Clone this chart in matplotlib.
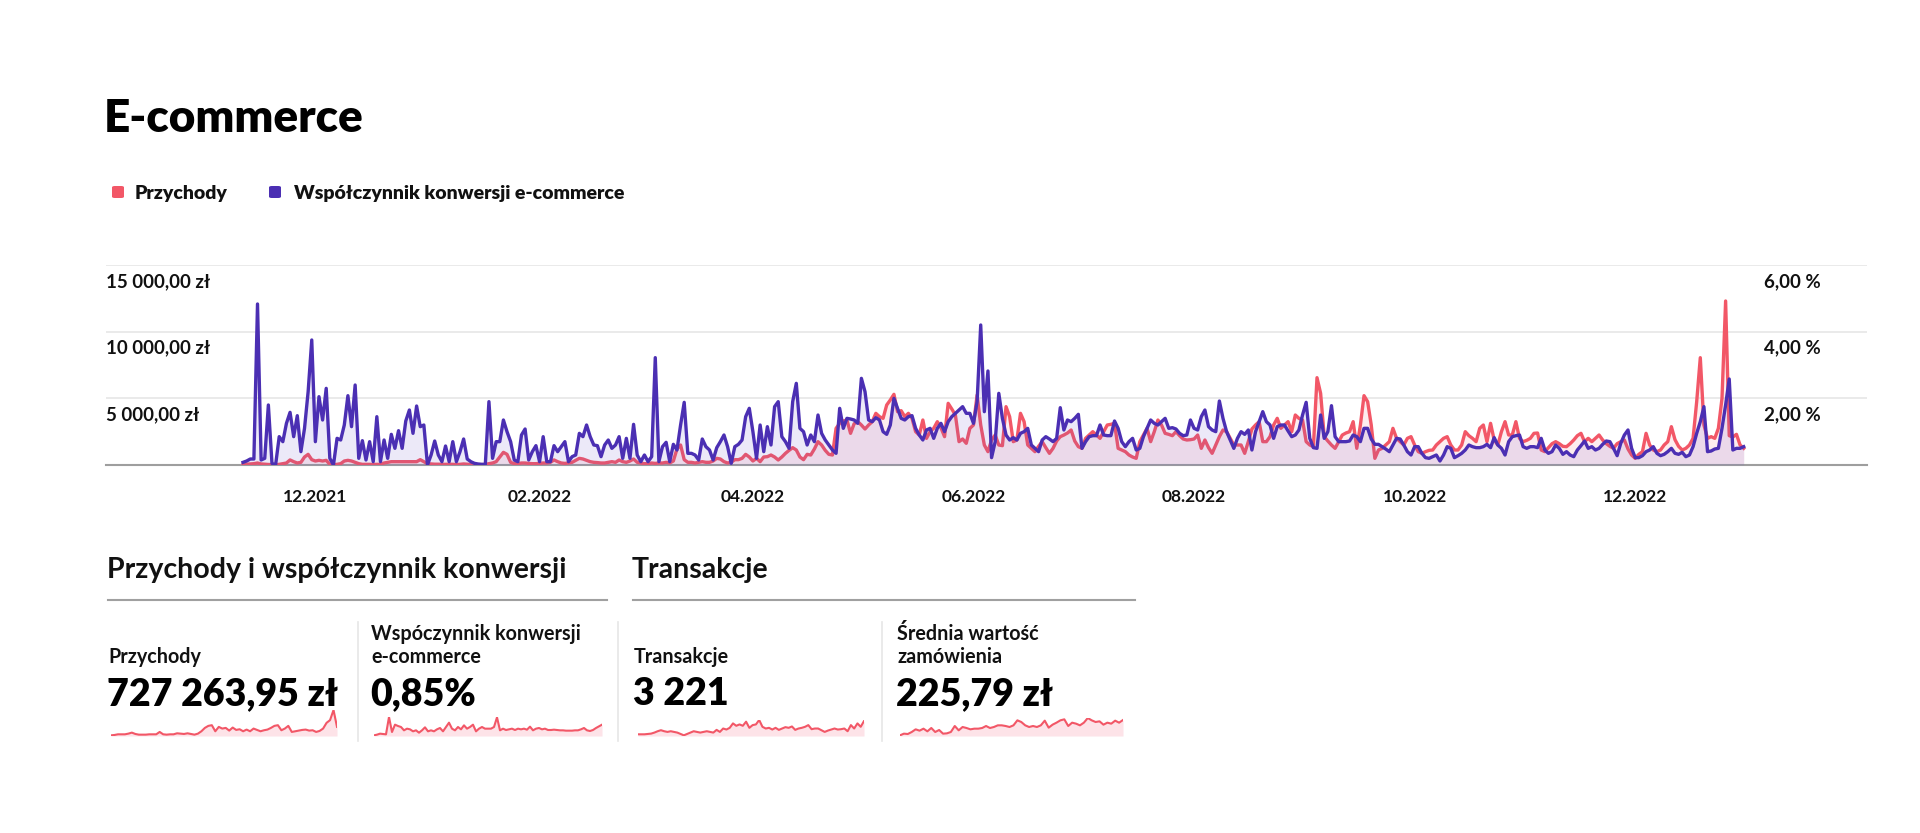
import matplotlib
matplotlib.use("Agg")
import matplotlib.pyplot as plt
import matplotlib.dates as mdates
from matplotlib.patches import FancyBboxPatch
from matplotlib.lines import Line2D
import numpy as np
import pandas as pd

plt.rcParams['font.family'] = ['Lato', 'DejaVu Sans']

# ---------------- data ----------------
start_date = "2021-11-11"

revenue = [  # Przychody, zł per day
    50, 60, 80, 100, 150, 80, 60, 40, 30, 20, 50, 100, 150, 380, 250, 150, 200, 600, 800, 400,
    300, 350, 300, 350, 50, 30, 50, 100, 300, 350, 300, 200, 100, 50, 50, 50, 40, 50, 50, 150,
    200, 250, 250, 250, 250, 250, 250, 250, 250, 400, 250, 100, 80, 60, 60, 50, 50, 60, 50, 40,
    50, 80, 60, 40, 30, 30, 30, 40,
    100, 150, 250, 600, 950, 800, 200, 100, 100, 150, 150, 120, 100, 100, 120, 150, 150, 200,
    380, 250, 150, 120, 150, 200, 350, 500, 450, 350, 250, 200, 180, 150, 150, 200, 250, 200,
    375, 250, 200, 300, 450, 200, 150, 100, 100, 150, 120, 150, 150, 200, 150, 300, 1200, 1500,
    400, 200, 200, 150, 200, 250, 200, 200, 300, 500, 450, 250, 150, 200, 400, 400,
    500, 800, 600, 300, 500, 250, 600, 625, 750, 600, 375, 600, 875, 1100, 1300, 1125, 600, 400,
    800, 750, 1200, 1750, 1500, 1100, 800, 750, 2750, 3125, 3300, 3375, 2375, 3100, 3250, 3000,
    2700, 3000, 3250, 3875, 3625, 3500, 4500, 4875, 5300, 4000, 4075, 3625, 3875, 3500, 2500,
    2250, 3375, 2000, 2500, 2750, 3250, 2800, 2125, 4625, 4200, 3750, 1750, 1950, 1625, 2750,
    3000, 5250, 3000, 1500, 1000, 1875,
    2250, 1500, 1450, 4375, 3625, 1750, 1875, 3875, 3250, 1500, 1250, 1000, 1400, 1750, 1300,
    875, 1250, 1800, 2125, 2250, 2400, 2625, 1800, 1375, 1250, 2000, 2250, 2500, 2250, 2000,
    2500, 3000, 3050, 3125, 1250, 1125, 1000, 750, 600, 500, 1750, 2250, 2750, 1750, 2500, 3375,
    3000, 2375, 2300, 2200, 2500, 2200, 1950, 1875, 1900, 1950, 2250, 1250, 1875, 1300, 875,
    1500, 2125, 2625, 2500, 2000, 1500, 1500, 1500, 875, 1750,
    2700, 3000, 3250, 1750, 1750, 2125, 3000, 3500, 2750, 3000, 3250, 2500, 3750, 3500, 3375,
    1750, 1500, 1375, 6550, 5375, 2125, 1800, 1500, 1250, 1750, 2250, 2400, 2500, 3250, 1250,
    3000, 5200, 4750, 3000, 500, 1125, 1250, 1500, 1750, 2750, 2000, 1750, 1500, 2000, 2125,
    1500, 1000, 875, 1000, 1100, 1125, 1500, 1750, 2000, 2125, 1500, 1125, 1125, 1500, 2500,
    2200, 2000, 1750, 2750, 3000, 1750, 3125, 1875, 1500, 2500,
    3250, 2250, 2250, 3250, 2000, 1750, 1850, 2000, 2375, 2400, 1125, 1000, 1300, 1600, 1750,
    1600, 1400, 1375, 1600, 1875, 2200, 2375, 1750, 2000, 1750, 2000, 2250, 1875, 1600, 1400,
    1250, 1600, 1750, 1875, 1200, 750, 500, 800, 1000, 2375, 1500, 1125, 1000, 1125, 1500, 1750,
    2875, 1900, 1400, 1125, 1250, 1500, 2000, 4750, 8050, 3000, 2000, 2125, 2000, 2750, 5000,
    12300, 2200, 2100, 2300, 1500, 1250,
]

conversion = [  # Współczynnik konwersji e-commerce, % per day
    0.08, 0.12, 0.18, 0.18, 4.83, 0.15, 0.2, 1.8, 0.05, 0.0, 0.85, 0.7, 1.25, 1.58, 0.85, 1.48,
    0.4, 1.1, 2.2, 3.75, 0.7, 2.05, 1.35, 2.3, 0.2, 0.0, 0.8, 0.75, 1.2, 2.08, 1.15, 2.4, 0.2,
    0.73, 0.15, 0.7, 0.1, 1.45, 0.1, 0.75, 0.2, 0.92, 0.5, 1.03, 0.5, 1.32, 1.65, 0.95, 1.77,
    1.15, 1.2, 0.0, 0.3, 0.72, 0.3, 0.1, 0.57, 0.1, 0.7, 0.1, 0.4, 0.78, 0.18, 0.1, 0.05, 0.03,
    0.02, 0.02,
    1.9, 0.2, 0.7, 0.7, 1.35, 1.0, 0.7, 0.15, 0.1, 0.9, 1.08, 0.15, 0.4, 0.58, 0.1, 0.85, 0.1,
    0.1, 0.58, 0.4, 0.55, 0.7, 0.1, 0.25, 0.3, 0.95, 0.85, 1.2, 0.85, 0.6, 0.58, 0.25, 0.6,
    0.75, 0.5, 0.6, 0.85, 0.2, 0.8, 0.2, 1.22, 0.3, 0.1, 0.3, 0.1, 0.25, 3.22, 0.1, 0.55, 0.68,
    0.1, 0.62, 0.45, 1.2, 1.88, 0.35, 0.35, 0.3, 0.15, 0.78, 0.55, 0.45, 0.15, 0.52, 0.7, 0.9,
    0.55, 0.05, 0.55, 0.62, 0.75,
    1.45, 1.7, 1.0, 0.2, 1.2, 0.4, 1.15, 0.6, 1.75, 1.9, 0.85, 0.7, 0.5, 1.9, 2.45, 1.1, 1.0,
    0.6, 0.9, 0.7, 1.5, 0.95, 0.75, 0.6, 0.45, 0.35, 1.7, 1.1, 1.4, 1.38, 1.35, 1.25, 2.6, 2.2,
    1.35, 1.3, 1.42, 1.35, 1.0, 0.92, 1.2, 2.0, 1.7, 1.4, 1.35, 1.45, 1.48, 1.1, 0.9, 0.75,
    1.05, 1.1, 0.8, 1.1, 1.25, 1.0, 1.3, 1.45, 1.55, 1.65, 1.75, 1.55, 1.55, 1.25, 1.9, 4.2,
    1.6, 2.82, 0.22, 0.7,
    2.15, 1.4, 0.9, 0.75, 0.82, 0.75, 0.95, 1.0, 1.1, 0.6, 0.5, 0.4, 0.75, 0.85, 0.78, 0.7, 0.8,
    1.72, 1.05, 1.35, 1.3, 1.4, 1.52, 0.5, 0.7, 0.85, 0.88, 0.88, 1.2, 0.9, 0.88, 0.88, 1.32,
    1.1, 0.7, 0.55, 0.7, 0.8, 0.45, 0.5, 0.85, 1.1, 1.35, 1.25, 1.2, 1.3, 1.4, 1.1, 1.12, 1.08,
    0.95, 0.88, 0.9, 1.35, 1.1, 1.05, 1.45, 1.65, 1.15, 1.05, 1.0, 1.92, 1.4, 1.0, 0.75, 0.5,
    0.8, 1.0, 0.92, 1.05, 0.45,
    1.0, 1.3, 1.6, 1.3, 1.2, 0.8, 1.15, 1.2, 1.2, 1.02, 0.85, 0.9, 1.05, 1.5, 1.88, 0.8, 0.52,
    0.5, 1.5, 0.8, 1.0, 1.78, 0.85, 0.7, 0.7, 0.7, 0.72, 0.9, 0.85, 0.7, 1.1, 1.1, 0.78, 0.62,
    0.62, 0.55, 0.48, 0.4, 0.6, 0.8, 0.78, 0.6, 0.4, 0.3, 0.55, 0.55, 0.35, 0.22, 0.2, 0.25,
    0.3, 0.12, 0.3, 0.55, 0.5, 0.22, 0.28, 0.35, 0.45, 0.6, 0.55, 0.52, 0.52, 0.55, 0.62, 0.52,
    0.82, 0.6, 0.5, 0.3,
    0.7, 0.85, 0.88, 0.9, 0.55, 0.5, 0.55, 0.55, 0.52, 0.8, 0.45, 0.35, 0.4, 0.6, 0.5, 0.32,
    0.4, 0.3, 0.25, 0.45, 0.58, 0.72, 0.5, 0.55, 0.45, 0.5, 0.62, 0.72, 0.7, 0.5, 0.28, 0.65,
    0.9, 1.05, 0.5, 0.22, 0.22, 0.28, 0.4, 0.45, 0.55, 0.35, 0.28, 0.32, 0.4, 0.5, 0.35, 0.32,
    0.38, 0.25, 0.3, 0.55, 0.95, 1.3, 1.75, 0.4, 0.42, 0.48, 0.5, 1.1, 1.8, 2.58, 0.45, 0.5,
    0.5, 0.55, 0.58,
]

n = min(len(revenue), len(conversion))
revenue = revenue[:n]
conversion = conversion[:n]

left_ticks = [5000, 10000, 15000]
left_labels = ["5 000,00 zł", "10 000,00 zł", "15 000,00 zł"]
right_ticks = [2, 4, 6]
right_labels = ["2,00 %", "4,00 %", "6,00 %"]
month_ticks = ["2021-12-01", "2022-02-01", "2022-04-01", "2022-06-01",
               "2022-08-01", "2022-10-01", "2022-12-01"]

series_names = ["Przychody", "Współczynnik konwersji e-commerce"]

kpi_labels = ["Przychody", "Wspóczynnik konwersji\ne-commerce", "Transakcje",
              "Średnia wartość\nzamówienia"]
kpi_values = ["727 263,95 zł", "0,85%", "3 221", "225,79 zł"]
section_titles = ["Przychody i współczynnik konwersji", "Transakcje"]

spark_przychody = [2, 3, 5, 5, 5, 7, 10, 6, 4, 4, 4, 5, 5, 5, 12, 5, 4, 5, 5, 8, 7, 6, 8, 6,
                   4, 7, 14, 24, 30, 32, 14, 27, 22, 24, 16, 25, 18, 20, 14, 19, 14, 22, 18,
                   14, 17, 19, 24, 30, 32, 17, 22, 30, 12, 14, 16, 18, 19, 16, 17, 12, 15,
                   22, 39, 47, 77, 27]
spark_konwersja = [2, 4, 7, 6, 5, 57, 12, 34, 30, 27, 17, 22, 20, 14, 17, 10, 17, 26, 14, 17,
                   14, 20, 24, 14, 27, 40, 22, 17, 27, 20, 32, 22, 27, 34, 14, 22, 27, 22, 22,
                   22, 27, 56, 17, 22, 18, 20, 22, 18, 22, 20, 22, 19, 28, 17, 22, 24, 20, 22,
                   18, 18, 19, 18, 17, 17, 16, 16, 16, 17, 17, 20, 24, 17, 15, 18, 24, 29, 34]
spark_transakcje = [5, 5, 5, 6, 7, 10, 14, 17, 14, 12, 14, 12, 10, 6, 2, 6, 10, 14, 12, 10,
                    12, 14, 12, 10, 18, 12, 22, 19, 24, 37, 30, 34, 30, 42, 24, 32, 34, 47,
                    27, 22, 24, 19, 24, 18, 22, 26, 24, 28, 18, 22, 24, 27, 32, 20, 22, 22,
                    17, 12, 16, 19, 22, 19, 20, 22, 14, 32, 22, 37, 27, 44]
spark_aov = [2, 7, 6, 12, 20, 16, 22, 14, 24, 12, 18, 7, 8, 12, 30, 17, 27, 24, 20, 22, 22,
             24, 30, 24, 27, 32, 32, 30, 27, 32, 47, 42, 32, 27, 30, 27, 32, 46, 25, 34, 40,
             47, 50, 30, 40, 37, 32, 40, 54, 47, 42, 44, 34, 40, 37, 46, 40, 48]

# ---------------- styling ----------------
RED = "#f25767"
PURPLE = "#4b2fb3"
TXT = "#111111"
W, H = 1920, 833

fig = plt.figure(figsize=(W / 100, H / 100), dpi=100)
fig.patch.set_facecolor("white")


def fx(px):
    return px / W


def fy(py):
    return 1 - py / H


# ---------------- main chart ----------------
dates = pd.date_range(start_date, periods=n, freq="D")
d0 = mdates.date2num(pd.Timestamp(start_date))

ax = fig.add_axes([fx(106), fy(465), fx(1867) - fx(106), fy(265) - fy(465)])
ax.set_ylim(0, 15000)
ax.set_xlim(d0 - 37.9, d0 + 449.1)
for t in left_ticks:
    ax.axhline(t, color="#e6e6e6", lw=1.2, zorder=0)
ax.fill_between(dates, revenue, 0, color=RED, alpha=0.10, lw=0, zorder=1)
ax.plot(dates, revenue, color=RED, lw=2.4, zorder=3, solid_joinstyle="round")
for s in ["top", "right", "left"]:
    ax.spines[s].set_visible(False)
ax.spines["bottom"].set_color("#9e9e9e")
ax.spines["bottom"].set_linewidth(1.5)
ax.set_yticks([])
ax.set_xticks([mdates.date2num(pd.Timestamp(m)) for m in month_ticks])
ax.xaxis.set_major_formatter(mdates.DateFormatter("%m.%Y"))
ax.tick_params(axis="x", length=0, pad=17, labelsize=12.5, colors=TXT)
for lab in ax.get_xticklabels():
    lab.set_fontweight("bold")
ax.patch.set_visible(False)

ax2 = ax.twinx()
ax2.set_ylim(0, 6)
ax2.fill_between(dates, conversion, 0, color="#6a4fc8", alpha=0.12, lw=0, zorder=1)
ax2.plot(dates, conversion, color=PURPLE, lw=2.4, zorder=3, solid_joinstyle="round")
for s in ["top", "right", "left", "bottom"]:
    ax2.spines[s].set_visible(False)
ax2.set_yticks([])

for t, lab in zip(left_ticks, left_labels):
    ax.annotate(lab, xy=(0, t), xycoords=("axes fraction", "data"), xytext=(0, -8),
                textcoords="offset pixels", ha="left", va="top", fontsize=13.5,
                fontweight="bold", color=TXT)
for t, lab in zip(right_ticks, right_labels):
    ax2.annotate(lab, xy=(d0 + 420.5, t), xycoords="data", xytext=(0, -8),
                 textcoords="offset pixels", ha="left", va="top", fontsize=13.5,
                 fontweight="bold", color=TXT)

# ---------------- title & legend ----------------
fig.text(fx(104), fy(132), "E-commerce", fontsize=33, fontweight="heavy", color="#000",
         ha="left", va="baseline")

for (sx, tx), name, col in zip([(112, 135), (269, 294)], series_names, [RED, PURPLE]):
    fig.patches.append(FancyBboxPatch((fx(sx), fy(198)), fx(12), 12 / H,
                                      boxstyle="round,pad=0,rounding_size=0.0015",
                                      transform=fig.transFigure, facecolor=col,
                                      edgecolor="none"))
    fig.text(fx(tx), fy(199), name, fontsize=14, fontweight="heavy", color=TXT,
             ha="left", va="baseline")

# ---------------- KPI section ----------------
for (x0, x1), title in zip([(108, 607), (633, 1135)], section_titles):
    fig.text(fx(x0 - 1), fy(578), title, fontsize=20.5, fontweight="bold", color=TXT,
             ha="left", va="baseline")
    fig.add_artist(Line2D([fx(x0), fx(x1)], [fy(600), fy(600)], color="#a0a0a0", lw=1.5))

for sx in [358, 618, 882]:
    fig.add_artist(Line2D([fx(sx), fx(sx)], [fy(622), fy(741)], color="#e6e6e6", lw=1.2))

card_x = [108, 371, 634, 897]
for x, lab, val in zip(card_x, kpi_labels, kpi_values):
    fig.text(fx(x), fy(663), lab, fontsize=14.2, fontweight="bold", color=TXT,
             ha="left", va="baseline", linespacing=1.2)
    fig.text(fx(x - 1), fy(705), val, fontsize=27, fontweight="heavy", color="#000",
             ha="left", va="baseline")

spark_boxes = [(111, 337, 710), (374, 602, 717), (638, 864, 720), (900, 1123, 718)]
for (x0, x1, top), vals in zip(spark_boxes,
                               [spark_przychody, spark_konwersja, spark_transakcje, spark_aov]):
    sa = fig.add_axes([fx(x0), fy(736), fx(x1) - fx(x0), fy(top) - fy(736)])
    xs = np.arange(len(vals))
    sa.fill_between(xs, vals, 0, color="#fde3e8", lw=0)
    sa.plot(xs, vals, color=RED, lw=1.5)
    sa.set_xlim(0, len(vals) - 1)
    sa.set_ylim(0, max(vals))
    sa.axis("off")

fig.savefig("out.png", dpi=100, facecolor="white")
